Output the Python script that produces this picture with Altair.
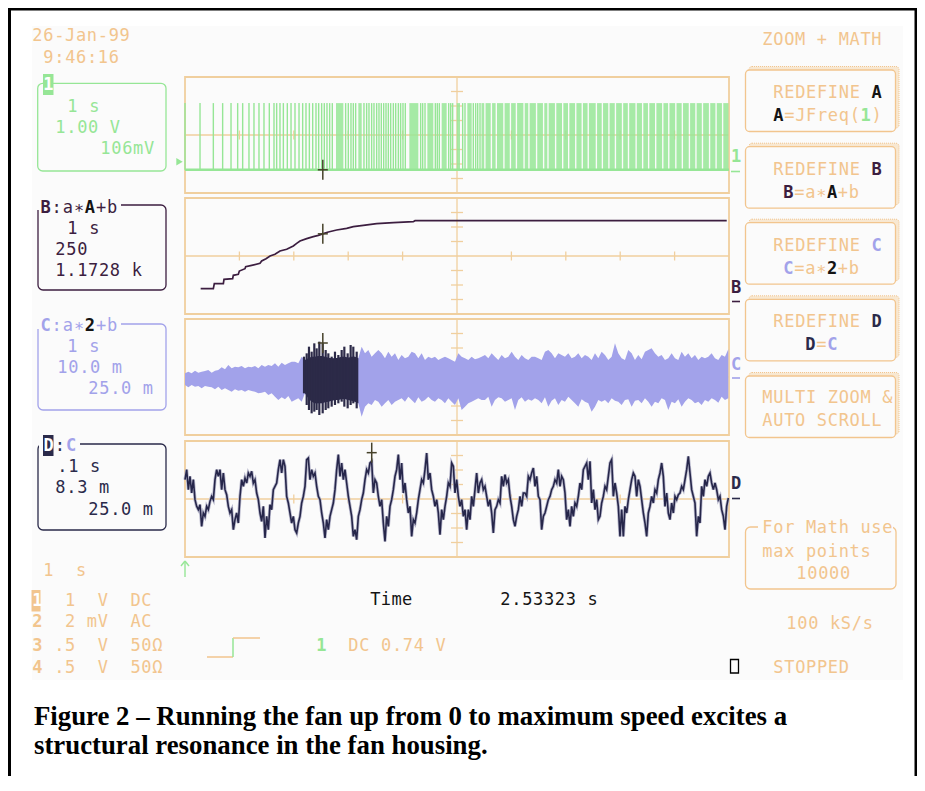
import altair as alt
import pandas as pd
import numpy as np

# ------------------------------------------------------------------ data
CURSOR_T = 2.53323            # s, cursor time readout

# Trace 1 / A = JFreq(1): tachometer pulse train (1 V/div, 1 s/div)
a_low_v, a_high_v = -2.4, 2.2
a_pulse_t = [0.0, 0.276, 0.521, 0.692, 0.846, 0.968, 1.060, 1.176, 1.268, 1.360,
             1.452, 1.550, 1.636, 1.685, 1.746, 1.808, 1.881, 1.949, 2.022, 2.096,
             2.163, 2.224, 2.286, 2.347, 2.408, 2.457, 2.512, 2.561, 2.610, 2.659,
             2.708, 2.953, 3.002, 3.051, 3.094, 3.137, 3.290, 3.339, 3.382, 3.431,
             3.474, 3.523, 3.566, 3.609, 3.652, 3.695, 3.738, 3.781, 3.830, 3.873,
             3.922, 3.964, 4.007, 4.050, 4.332, 4.369, 4.412, 4.602, 4.638, 4.675,
             4.847, 4.884, 4.920, 5.104, 5.147, 5.300, 5.343, 5.380, 5.423]
# stretches where the pulses merge into a solid block
a_band_start = [2.776, 3.186, 4.124, 4.455, 4.718, 4.994, 5.190,
                5.450, 5.525, 5.645, 5.735, 5.875, 5.995, 6.105, 6.245, 6.335, 6.475,
                6.605, 6.685, 6.825, 6.955, 7.065, 7.195, 7.315, 7.425, 7.575, 7.685,
                7.805, 7.925, 8.055, 8.165, 8.305, 8.425, 8.535, 8.665, 8.795, 8.905,
                9.035, 9.155, 9.285, 9.405, 9.525, 9.655, 9.775, 9.895]
a_band_end = [2.911, 3.248, 4.289, 4.565, 4.810, 5.055, 5.270,
              5.500, 5.620, 5.710, 5.850, 5.970, 6.080, 6.220, 6.310, 6.450, 6.580,
              6.660, 6.800, 6.930, 7.040, 7.170, 7.290, 7.400, 7.550, 7.660, 7.780,
              7.900, 8.030, 8.140, 8.280, 8.400, 8.510, 8.640, 8.770, 8.880, 9.010,
              9.130, 9.260, 9.380, 9.500, 9.630, 9.750, 9.870, 9.990]

# Trace B = a*A+b : fan speed (250 /div around 1.1728 k)
B_CENTER, B_PER_DIV = 1172.8, 250.0
b_t = [0.288, 0.521, 0.539, 0.705, 0.717, 0.876, 0.888, 0.980, 0.999, 1.103,
       1.115, 1.225, 1.379, 1.409, 1.489, 1.563, 1.654, 1.746, 1.869, 1.991,
       2.053, 2.114, 2.237, 2.359, 2.451, 2.543, 2.635, 2.788, 2.972, 3.094,
       3.278, 3.523, 3.830, 4.197, 4.228, 9.958]
b_val = [610, 610, 696, 696, 770, 782, 840, 857, 914, 954,
         989, 1012, 1046, 1087, 1127, 1173, 1202, 1259, 1288, 1345,
         1391, 1431, 1472, 1506, 1529, 1558, 1587, 1621, 1650, 1679,
         1702, 1730, 1748, 1765, 1782, 1782]

# Trace C = a*2+b : vibration envelope (counts, 43.5 counts per division)
COUNTS_PER_DIV = 43.5
C_DT = 0.06127
c_upper = [11, 16, 11, 19, 13, 16, 18, 21, 13, 19, 21, 29, 23, 36, 26, 31, 29, 33, 26, 31,
           29, 33, 26, 36, 31, 36, 33, 41, 31, 43, 36, 41, 46, 46, 41, 61,
           51, 56, 61, 61, 63, 63, 61, 58, 56, 56, 58, 61, 61, 58, 61, 61, 56,
           91, 71, 81, 61, 71, 81, 71, 56, 76, 61, 71, 51, 66, 56, 61, 76, 71, 56, 71, 51,
           61, 56, 61, 51, 56, 61, 56, 51, 46, 71, 61, 56, 51, 61, 53, 56, 61,
           66, 56, 71, 61, 51, 66, 56, 61, 76, 61, 51, 66, 56, 51, 61, 61, 56, 51, 76, 81,
           71, 56, 71, 66, 61, 71, 56, 61, 71, 56, 66, 61, 51, 71, 56, 76, 66, 51, 61, 101,
           71, 56, 51, 81, 71, 51, 66, 53, 76, 81, 86, 71, 61, 66, 51, 56, 71, 56, 51, 76,
           61, 71, 56, 66, 51, 61, 56, 61, 71, 56, 51, 66, 61, 83]
c_lower = [-24, -31, -24, -29, -27, -34, -27, -29, -31, -37, -29, -39, -34, -39, -44, -37, -41, -39, -44, -39,
           -42, -44, -49, -47, -44, -54, -49, -59, -69, -61, -67, -57, -74, -69, -64, -74,
           -49, -64, -74, -79, -79, -79, -76, -74, -71, -69, -69, -66, -66, -69, -71, -74, -79,
           -119, -89, -79, -84, -69, -74, -89, -79, -69, -84, -74, -69, -64, -74, -59, -69, -79, -61, -74, -69,
           -59, -69, -74, -64, -69, -79, -64, -74, -84, -64, -99, -89, -79, -74, -69, -64, -69,
           -69, -59, -89, -69, -61, -64, -74, -69, -64, -99, -69, -61, -74, -67, -71, -64, -69, -79, -61, -89,
           -71, -64, -84, -69, -74, -59, -69, -79, -89, -67, -74, -79, -104, -89, -69, -74, -69, -79, -64, -71,
           -74, -84, -69, -67, -89, -71, -69, -79, -64, -74, -89, -74, -79, -64, -69, -99, -74, -79, -67, -89,
           -74, -64, -69, -79, -74, -84, -69, -74, -64, -69, -77, -59, -69, -64]
# tall spikes inside the zoomed (dark) stretch of C
c_spike_t = [2.188, 2.237, 2.279, 2.328, 2.377, 2.420, 2.469, 2.531, 2.586, 2.635,
             2.696, 2.757, 2.819, 2.880, 2.929, 2.990, 3.045, 3.094, 3.156]
c_spike_hi = [61, 71, 91, 76, 101, 86, 106, 101, 81, 71, 61, 76, 66, 81, 91, 71, 96, 91, 76]
c_spike_lo = [-49, -84, -99, -109, -104, -99, -114, -109, -99, -94, -89, -84, -79, -74, -89, -94, -84, -79, -94]

# Trace D = C zoomed (0.1 s/div), counts
D_T0, D_DT = 2.19, 1.0 / 326.4
d_counts = [58, 88, 28, 68, 18, 58, -2, -22, -32, -17, -82, -42, -52, -22, -32, -7, 8, -2, 58, 88,
            68, 88, 28, 78, 28, 13, -22, -42, -32, -92, -62, -42, -72, 8, 58, 38, 63, 48, 78, 68,
            83, 48, 58, 18, -2, -42, -67, -22, -117, -52, -92, -17, -32, 28, 38, 48, 88, 118, 78, 118,
            98, 8, -12, -42, -72, -52, -92, -102, -72, -52, -12, 8, 38, 118, 123, 58, 88, 68, 78, 38,
            8, -2, -42, -72, -117, -62, -92, -52, -32, -12, 28, 88, 133, 68, 108, 58, 88, 48, 8, -22,
            -52, -112, -92, -122, -52, -32, -2, 18, 58, 88, 78, 108, 113, 18, 58, 48, 8, -22, -2, -72,
            -127, -52, -82, -22, -2, 28, 68, 88, 133, 58, 108, 18, 48, -2, -42, -22, -112, -62, -72, -42,
            -2, 28, 58, 48, 88, 138, 58, 78, 28, 8, -22, -2, -42, -107, -32, -62, -22, 8, 48, 38,
            108, 98, 18, 58, 8, -22, -2, -52, -32, -92, -32, -62, 8, -22, 28, 78, 18, 48,
            58, 28, 38, 8, -22, -2, -42, -102, -32, -22, -2, -12, 68, 38, 73, 48, 58, 8, -22, -62,
            -82, -52, -32, 8, -22, 18, 18, 8, 68, 58, 78, 93, 38, 68, 8, -2, -92, -52, -42, -22,
            -2, 8, 28, 38, 58, 48, 88, 38, 68, 58, 18, -62, -32, -82, -22, -52, -12, -22, 8, 48,
            28, 88, 98, 108, 58, 113, -12, 28, -32, -2, -62, -52, -12, 8, 38, 28, 68, 108, 118, 8,
            48, 18, -22, -112, -32, -112, -22, -42, -2, 28, 58, 78, 68, 8, 58, 38, -2, -42, -72, -112,
            -42, -22, 8, -12, 28, 18, 58, 78, 108, 68, -22, 18, -42, -62, -12, -42, 8, -2, 13, 18,
            38, 28, 58, 88, 128, 78, 28, 8, -12, -112, -52, -72, 38, 8, 58, 38, 68, 78, 48, 28,
            48, 28, -2, 8, -32, -52, -92, -22, 3]

# cursor levels (panels C and D)
cursor_level_c = 102
cursor_level_d = 139

# ------------------------------------------------------------------ layout
W, H = 909, 768
OX, OY = 8, 8
TAN = "#f2c58e"
GRID = "#f0cf9e"
GREEN = "#96e696"
LAV = "#a2a2ea"
PURP = "#3c1e40"
NAVY = "#2a2a4a"
BLACK = "#141414"
OLIVE = "#46422a"
SCREEN = "#fbfbfb"
MONO = "DejaVu Sans Mono"

PANEL_X0, PANEL_X1 = 185, 729
PANEL_TOPS = [77, 198, 319, 441]
PANEL_H = 116
DIV_X = (PANEL_X1 - PANEL_X0) / 10.0
DIV_Y = PANEL_H / 8.0

SX = alt.Scale(domain=[OX, OX + W], range=[0, W], nice=False, zero=False)
SY = alt.Scale(domain=[OY, OY + H], range=[0, H], nice=False, zero=False)


def PX(f):
    return alt.X(f"{f}:Q", scale=SX, axis=None)


def PY(f):
    return alt.Y(f"{f}:Q", scale=SY, axis=None)


def panel_x(domain):
    return alt.Scale(domain=domain, range=[PANEL_X0 - OX, PANEL_X1 - OX], nice=False, zero=False)


def panel_y(k, domain):
    top = PANEL_TOPS[k]
    return alt.Scale(domain=domain, range=[top + PANEL_H - OY, top - OY], nice=False, zero=False)


layers = []

# screen background
layers.append(alt.Chart(pd.DataFrame([dict(x1=32, y1=26, x2=903, y2=680)])).mark_rect(color=SCREEN)
              .encode(x=PX("x1"), x2="x2", y=PY("y1"), y2="y2"))

segs = []


def seg(x1, y1, x2, y2, color, w=1.4):
    segs.append(dict(x1=x1, y1=y1, x2=x2, y2=y2, color=color, w=w))


# outer black frame
seg(9.5, 8, 9.5, 800, "#000000", 3)
seg(8, 9, 918, 9, "#000000", 3)
seg(916, 8, 916, 800, "#000000", 3)

frames = []
for k, top in enumerate(PANEL_TOPS):
    bot = top + PANEL_H
    cy = top + PANEL_H / 2
    cx = PANEL_X0 + 5 * DIV_X
    frames.append(dict(x1=PANEL_X0, y1=top, x2=PANEL_X1, y2=bot))
    seg(cx, top, cx, bot, GRID, 1.3)
    seg(PANEL_X0, cy, PANEL_X1, cy, GRID, 1.3)
    for j in (1, 2, 3):
        for s in (-1, 1):
            seg(cx - 6, cy + s * j * DIV_Y, cx + 6, cy + s * j * DIV_Y, GRID, 1.3)
    for i in range(1, 10):
        if i != 5:
            x = PANEL_X0 + i * DIV_X
            seg(x, cy - 4.5, x, cy + 4.5, GRID, 1.3)

layers.append(alt.Chart(pd.DataFrame(frames)).mark_rect(fill="transparent", stroke=GRID, strokeWidth=1.8)
              .encode(x=PX("x1"), x2="x2", y=PY("y1"), y2="y2"))

# ---------------- traces (each with its own scales)
# A
ax = panel_x([0, 10])
ay = panel_y(0, [-4, 4])
dfA = pd.DataFrame(dict(t=a_pulse_t, lo=a_low_v, hi=a_high_v))
dfAb = pd.DataFrame(dict(s=a_band_start, e=a_band_end, lo=a_low_v, hi=a_high_v))
dfAbase = pd.DataFrame(dict(t0=[0.0], t1=[10.0], v=[a_low_v]))
trace_layers = []
trace_layers.append(alt.Chart(dfAb).mark_rect(color=GREEN, opacity=0.85)
                    .encode(x=alt.X("s:Q", scale=ax, axis=None), x2="e", y=alt.Y("lo:Q", scale=ay, axis=None), y2="hi"))
trace_layers.append(alt.Chart(dfA).mark_rule(color=GREEN, strokeWidth=1.4)
                    .encode(x=alt.X("t:Q", scale=ax, axis=None), y=alt.Y("lo:Q", scale=ay, axis=None), y2="hi"))
trace_layers.append(alt.Chart(dfAbase).mark_rule(color=GREEN, strokeWidth=2.6)
                    .encode(x=alt.X("t0:Q", scale=ax, axis=None), x2="t1", y=alt.Y("v:Q", scale=ay, axis=None)))

# B
bx = panel_x([0, 10])
by = panel_y(1, [B_CENTER - 4 * B_PER_DIV, B_CENTER + 4 * B_PER_DIV])
dfB = pd.DataFrame(dict(t=b_t, v=b_val))
trace_layers.append(alt.Chart(dfB).mark_line(color=PURP, strokeWidth=1.7)
                    .encode(x=alt.X("t:Q", scale=bx, axis=None), y=alt.Y("v:Q", scale=by, axis=None)))

# C
cx_s = panel_x([0, 10])
cy_s = panel_y(2, [-4 * COUNTS_PER_DIV, 4 * COUNTS_PER_DIV])
dfC = pd.DataFrame(dict(t=np.arange(len(c_upper)) * C_DT, up=c_upper, lo=c_lower))
dfCd = dfC[(dfC.t >= D_T0) & (dfC.t <= D_T0 + 1.0)]
dfCs = pd.DataFrame(dict(t=c_spike_t, hi=c_spike_hi, lo=c_spike_lo))
trace_layers.append(alt.Chart(dfC).mark_area(color=LAV, opacity=1)
                    .encode(x=alt.X("t:Q", scale=cx_s, axis=None), y=alt.Y("up:Q", scale=cy_s, axis=None), y2="lo"))
trace_layers.append(alt.Chart(dfCd).mark_area(color="#2c2a48", opacity=1)
                    .encode(x=alt.X("t:Q", scale=cx_s, axis=None), y=alt.Y("up:Q", scale=cy_s, axis=None), y2="lo"))
trace_layers.append(alt.Chart(dfCs).mark_rule(color="#2c2a48", strokeWidth=2.2)
                    .encode(x=alt.X("t:Q", scale=cx_s, axis=None), y=alt.Y("hi:Q", scale=cy_s, axis=None), y2="lo"))

# D
dx = panel_x([D_T0, D_T0 + 1.0])
dy = panel_y(3, [-4 * COUNTS_PER_DIV, 4 * COUNTS_PER_DIV])
dfD = pd.DataFrame(dict(t=D_T0 + np.arange(len(d_counts)) * D_DT, v=d_counts))
trace_layers.append(alt.Chart(dfD).mark_line(color="#b8b8cc", strokeWidth=3.2)
                    .encode(x=alt.X("t:Q", scale=dx, axis=None), y=alt.Y("v:Q", scale=dy, axis=None)))
trace_layers.append(alt.Chart(dfD).mark_line(color="#26264a", strokeWidth=1.6)
                    .encode(x=alt.X("t:Q", scale=dx, axis=None), y=alt.Y("v:Q", scale=dy, axis=None)))

# cursors (+ marks) on each trace
b_cursor = float(np.interp(CURSOR_T, b_t, b_val))
cursor_specs = [
    (ax, ay, a_low_v, 0.69, 0.092),
    (bx, by, b_cursor, 0.69 * B_PER_DIV, 0.092),
    (cx_s, cy_s, cursor_level_c, 0.69 * COUNTS_PER_DIV, 0.092),
    (dx, dy, cursor_level_d, 0.69 * COUNTS_PER_DIV, 0.0092),
]
for sx_, sy_, lev, dv, dt in cursor_specs:
    cdf = pd.DataFrame([
        dict(t1=CURSOR_T, t2=CURSOR_T, v1=lev - dv, v2=lev + dv),
        dict(t1=CURSOR_T - dt, t2=CURSOR_T + dt, v1=lev, v2=lev),
    ])
    trace_layers.append(alt.Chart(cdf).mark_rule(color=OLIVE, strokeWidth=1.5)
                        .encode(x=alt.X("t1:Q", scale=sx_, axis=None), x2="t2",
                                y=alt.Y("v1:Q", scale=sy_, axis=None), y2="v2"))

# ---------------- left info boxes, buttons
boxes = [
    dict(x1=37.7, y1=83.3, x2=166, y2=171, stroke=GREEN),
    dict(x1=38, y1=205, x2=166, y2=290, stroke=PURP),
    dict(x1=38, y1=324, x2=166, y2=410, stroke=LAV),
    dict(x1=38, y1=444, x2=166, y2=530, stroke=NAVY),
]
box_layer = (alt.Chart(pd.DataFrame(boxes)).mark_rect(fill="transparent", strokeWidth=1.3, cornerRadius=5)
             .encode(x=PX("x1"), x2="x2", y=PY("y1"), y2="y2", stroke=alt.Stroke("stroke:N", scale=None)))

btn_tops = [70, 146.7, 222.7, 299.3, 376]
backs = [dict(x1=749, y1=t - 3.5, x2=899, y2=t + 58) for t in btn_tops]
fronts = [dict(x1=745.5, y1=t, x2=895.5, y2=t + 61.5) for t in btn_tops]
back_layer = (alt.Chart(pd.DataFrame(backs)).mark_rect(fill="#f8e8d2", stroke=TAN, strokeWidth=1, strokeDash=[1, 1], cornerRadius=3)
              .encode(x=PX("x1"), x2="x2", y=PY("y1"), y2="y2"))
front_layer = (alt.Chart(pd.DataFrame(fronts)).mark_rect(fill=SCREEN, stroke=TAN, strokeWidth=1.3, cornerRadius=4)
               .encode(x=PX("x1"), x2="x2", y=PY("y1"), y2="y2"))
math_box = (alt.Chart(pd.DataFrame([dict(x1=745.5, y1=527, x2=896, y2=589)]))
            .mark_rect(fill="transparent", stroke=TAN, strokeWidth=1.3, cornerRadius=5)
            .encode(x=PX("x1"), x2="x2", y=PY("y1"), y2="y2"))
stop_box = (alt.Chart(pd.DataFrame([dict(x1=730.5, y1=659.5, x2=738.5, y2=673)]))
            .mark_rect(fill="transparent", stroke="#000000", strokeWidth=1.3)
            .encode(x=PX("x1"), x2="x2", y=PY("y1"), y2="y2"))

covers = [
    dict(x1=37, y1=200, x2=121, y2=210, fill=SCREEN),
    dict(x1=37, y1=319, x2=121, y2=329, fill=SCREEN),
    dict(x1=39, y1=439, x2=80, y2=449, fill=SCREEN),
    dict(x1=758, y1=521, x2=893, y2=533, fill=SCREEN),
    dict(x1=43, y1=74, x2=53.5, y2=95, fill=GREEN),
    dict(x1=43, y1=435, x2=53.5, y2=456, fill=NAVY),
    dict(x1=31.5, y1=590, x2=40.5, y2=611.5, fill=TAN),
]
cover_layer = (alt.Chart(pd.DataFrame(covers)).mark_rect()
               .encode(x=PX("x1"), x2="x2", y=PY("y1"), y2="y2", fill=alt.Fill("fill:N", scale=None)))

# misc strokes
seg(731, 171.5, 740, 171.5, GREEN, 1.6)
seg(732, 301.5, 740, 301.5, PURP, 1.6)
seg(732, 378, 740, 378, LAV, 1.6)
seg(732, 498.5, 740, 498.5, NAVY, 1.6)
seg(207, 657, 233, 657, TAN, 1.5)
seg(233, 638, 233, 657, GREEN, 1.5)
seg(233, 638, 260, 638, TAN, 1.5)
seg(185, 561, 185, 577, GREEN, 1.4)
seg(181, 566, 185, 561, GREEN, 1.4)
seg(189, 566, 185, 561, GREEN, 1.4)

seg_df = pd.DataFrame(segs)
grid_segs = alt.Chart(seg_df).mark_rule().encode(
    x=PX("x1"), x2="x2", y=PY("y1"), y2="y2",
    color=alt.Color("color:N", scale=None), strokeWidth=alt.StrokeWidth("w:Q", scale=None))

tri = (alt.Chart(pd.DataFrame([dict(x=179.5, y=161.7)])).mark_point(shape="triangle-right", filled=True, size=55, color=GREEN, opacity=1)
       .encode(x=PX("x"), y=PY("y")))

# ---------------- text (monospace, placed on a fixed character pitch)
chars = []


def run(x, y, parts, pitch=10.9):
    i = 0
    for part in parts:
        text, color = part[0], part[1]
        bold = part[2] if len(part) > 2 else False
        for ch in text:
            if ch != " ":
                chars.append(dict(x=x + (i + 0.5) * pitch, y=y, ch=ch, color=color, bold=bold))
            i += 1


run(32, 36, [("26-Jan-99", TAN)])
run(43, 58, [("9:46:16", TAN)])
run(762, 40, [("ZOOM + MATH", TAN)])
run(43, 84.5, [("1", "#ffffff", True)], pitch=10.5)
run(67, 106.5, [("1 s", GREEN)])
run(55, 127.5, [("1.00 V", GREEN)])
run(100, 149, [("106mV", GREEN)])
run(40, 208, [("B", PURP, True), (":a∗", PURP), ("A", BLACK, True), ("+b", PURP)], pitch=11.1)
run(67, 229, [("1 s", PURP)])
run(55, 250, [("250", PURP)])
run(55, 271, [("1.1728 k", PURP)])
run(40, 326, [("C", LAV, True), (":a∗", LAV), ("2", BLACK, True), ("+b", LAV)], pitch=11.1)
run(67, 346.7, [("1 s", LAV)])
run(57, 368.3, [("10.0 m", LAV)])
run(88, 389.3, [("25.0 m", LAV)])
run(43, 445.5, [("D", "#ffffff", True), (":", NAVY), ("C", LAV, True)], pitch=11.2)
run(57, 466.7, [(".1 s", NAVY)])
run(55, 488.3, [("8.3 m", NAVY)])
run(88, 510, [("25.0 m", NAVY)])

run(773, 93, [("REDEFINE ", TAN), ("A", BLACK, True)])
run(773, 116, [("A", BLACK, True), ("=JFreq(", TAN), ("1", GREEN, True), (")", TAN)])
run(773, 169.5, [("REDEFINE ", TAN), ("B", PURP, True)])
run(783, 192.5, [("B", PURP, True), ("=a∗", TAN), ("A", BLACK, True), ("+b", TAN)])
run(773, 245.5, [("REDEFINE ", TAN), ("C", LAV, True)])
run(783, 268.5, [("C", LAV, True), ("=a∗", TAN), ("2", BLACK, True), ("+b", TAN)])
run(773, 321.5, [("REDEFINE ", TAN), ("D", NAVY, True)])
run(805, 344.5, [("D", NAVY, True), ("=", TAN), ("C", LAV, True)])
run(762, 397.5, [("MULTI ZOOM &", TAN)])
run(762, 420.5, [("AUTO SCROLL", TAN)])
run(762, 528, [("For Math use", TAN)])
run(762, 551.5, [("max points", TAN)])
run(796, 573.5, [("10000", TAN)])
run(786, 624, [("100 kS/s", TAN)])
run(773, 668, [("STOPPED", TAN)])

run(731, 157, [("1", GREEN, True)], pitch=10)
run(731, 288, [("B", PURP, True)], pitch=10)
run(731, 365, [("C", LAV, True)], pitch=10)
run(731, 484, [("D", NAVY, True)], pitch=10)

run(43, 571, [("1  s", TAN)])
run(32, 600.7, [("1", "#ffffff", True), ("  1  V  DC", TAN)])
run(32, 621.7, [("2", TAN, True), ("  2 mV  AC", TAN)])
run(32, 646, [("3", TAN, True), (" .5  V  50Ω", TAN)])
run(32, 667.5, [("4", TAN, True), (" .5  V  50Ω", TAN)])
run(370, 600, [("Time", BLACK)], pitch=10.6)
run(500, 600, [("2.53323 s", BLACK)])
run(316, 646, [("1", GREEN, True)])
run(348, 646, [("DC 0.74 V", TAN)])

cdf_all = pd.DataFrame(chars)
text_layers = []
for bold, grp in cdf_all.groupby("bold"):
    text_layers.append(
        alt.Chart(grp).mark_text(font=MONO, fontSize=17, fontWeight="bold" if bold else "normal",
                                 align="center", baseline="middle")
        .encode(x=PX("x"), y=PY("y"), text="ch:N", color=alt.Color("color:N", scale=None)))

caption_lines = ["Figure 2 \u2013 Running the fan up from 0 to maximum speed excites a",
                 "structural resonance in the fan housing."]
cap = (alt.Chart(pd.DataFrame(dict(x=[34, 34], y=[725, 754], t=caption_lines)))
       .mark_text(font="Liberation Serif", fontSize=26.8, fontWeight="bold", align="left",
                  baseline="alphabetic", color="#000000")
       .encode(x=PX("x"), y=PY("y"), text="t:N"))

all_layers = (layers + [grid_segs] + trace_layers +
              [box_layer, back_layer, front_layer, math_box, stop_box, cover_layer, tri] +
              text_layers + [cap])

chart = (alt.layer(*all_layers)
         .resolve_scale(x="independent", y="independent")
         .properties(width=W, height=H, padding=0, background="white",
                     autosize=alt.AutoSizeParams(type="none"))
         .configure_view(stroke=None))

chart.save("out.html", embed_options={"renderer": "svg", "actions": False})
